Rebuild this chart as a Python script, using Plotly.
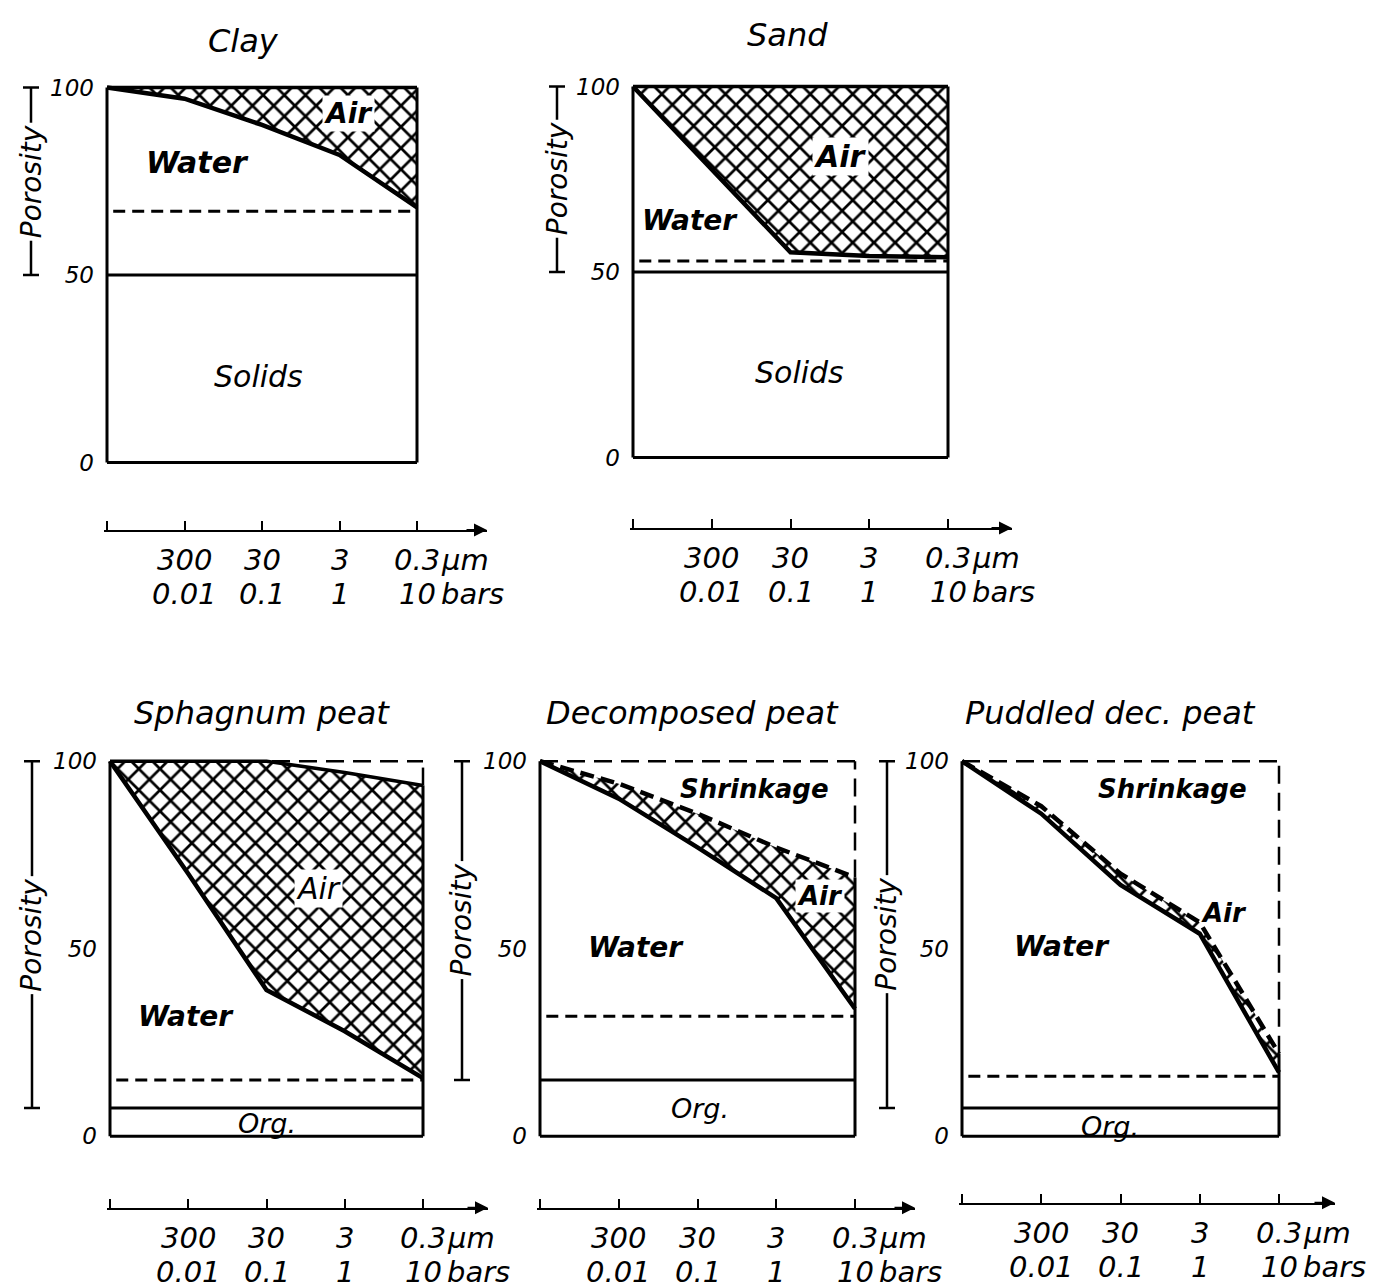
import plotly.graph_objects as go

W, H = 1390, 1288
OFF = 8  # page body margin of the html page, in px

# ---------------- data ----------------
steps = [0, 1, 2, 3, 4]                      # saturation, 0.01, 0.1, 1, 10 bars
pore_um = ["300", "30", "3", "0.3"]
suction_bar = ["0.01", "0.1", "1", "10"]
y_tick_vals = [0, 50, 100]
y_tick_text = ["0", "50", "100"]

titles = ["Clay", "Sand", "Sphagnum peat", "Decomposed peat", "Puddled dec. peat"]

clay_water = [100, 97, 90, 82, 68]
clay_air_top = [100, 100, 100, 100, 100]
clay_solids = 50
clay_dashed = 67

sand_water = [100, 77.6, 55.3, 54.3, 54]
sand_air_top = [100, 100, 100, 100, 100]
sand_solids = 50
sand_dashed = 53

sph_water = [100, 70, 39, 28, 15.5]
sph_air_top = [100, 100, 100, 97, 93.5]
sph_org = 7.5
sph_dashed = 15

dec_water = [100, 90, 77, 63.5, 34]
dec_air_top = [100, 94, 86, 77, 69]
dec_org = 15
dec_dashed = 32

pud_water = [100, 86, 67, 54, 17]
pud_air_top = [100, 88, 70, 57, 22]
pud_org = 7.5
pud_dashed = 16

# ---------------- layout of the panels (page pixels) ----------------
panels = [
    dict(title=titles[0], water=clay_water, air_top=clay_air_top, base=clay_solids,
         dashed=clay_dashed, shrinks=False, top_dash=None,
         box=(107, 417, 78, 456), arrow_y=524, tip=487, bracket_px=31, title_px=(243, 31),
         labels=[("Water", 1.17, 80, 30, True, None), ("Air", 3.12, 93, 28, True, "white"),
                 ("Solids", 1.95, 23, 30, False, None)]),
    dict(title=titles[1], water=sand_water, air_top=sand_air_top, base=sand_solids,
         dashed=sand_dashed, shrinks=False, top_dash=None,
         box=(633, 948, 77, 451), arrow_y=522, tip=1012, bracket_px=557, title_px=(787, 25),
         labels=[("Water", 0.72, 64, 28, True, None), ("Air", 2.63, 81, 30, True, "white"),
                 ("Solids", 2.12, 23, 30, False, None)]),
    dict(title=titles[2], water=sph_water, air_top=sph_air_top, base=sph_org,
         dashed=sph_dashed, shrinks=True, top_dash=None,
         box=(110, 423, 757, 1135), arrow_y=1207, tip=488, bracket_px=32, title_px=(262, 708),
         labels=[("Air", 2.66, 66, 30, False, "white"), ("Water", 0.97, 32, 28, True, None),
                 ("Org.", 2.0, 3.4, 27, False, None)]),
    dict(title=titles[3], water=dec_water, air_top=dec_air_top, base=dec_org,
         dashed=dec_dashed, shrinks=True, top_dash="14px,7px",
         box=(540, 855, 757, 1135), arrow_y=1207, tip=915, bracket_px=462, title_px=(692, 708),
         labels=[("Shrinkage", 2.73, 92.6, 26, True, None), ("Air", 3.55, 64, 26, True, "white"),
                 ("Water", 1.22, 50.3, 28, True, None), ("Org.", 2.03, 7.4, 27, False, None)]),
    dict(title=titles[4], water=pud_water, air_top=pud_air_top, base=pud_org,
         dashed=pud_dashed, shrinks=True, top_dash="14px,7px",
         box=(962, 1279, 757, 1135), arrow_y=1202, tip=1335, bracket_px=887, title_px=(1110, 708),
         labels=[("Shrinkage", 2.65, 92.6, 26, True, None), ("Air", 3.3, 59.5, 26, True, None),
                 ("Water", 1.26, 50.5, 28, True, None), ("Org.", 1.87, 2.6, 27, False, None)]),
]

FONT = "DejaVu Sans"
fig = go.Figure()
shapes = []
annotations = []
layout_axes = {}


def fnt(size, bold=False):
    return dict(family=FONT, size=size, color="black", style="italic",
                weight="bold" if bold else "normal")


for i, p in enumerate(panels, start=1):
    xs = "" if i == 1 else str(i)
    xref, yref = "x" + xs, "y" + xs
    left, right, top, bottom = [v - OFF for v in p["box"]]
    arrow_y, tip = p["arrow_y"] - OFF, p["tip"] - OFF
    ppx = (right - left) / (steps[-1] - steps[0])
    ppy = (bottom - top) / (y_tick_vals[-1] - y_tick_vals[0])
    pad = 3
    x_range = [steps[0] - pad / ppx, steps[0] + (tip - left) / ppx]
    y_range = [y_tick_vals[0] - (arrow_y - bottom) / ppy, y_tick_vals[-1] + pad / ppy]
    dom_l, dom_r = left - pad, tip
    x_dom = [dom_l / W, dom_r / W]
    y_dom = [1 - arrow_y / H, 1 - (top - pad) / H]

    layout_axes["xaxis" + xs] = dict(
        domain=x_dom, range=x_range, anchor=yref, showgrid=False, zeroline=False,
        showline=True, linecolor="black", linewidth=2, ticks="inside", tickvals=steps,
        ticklen=9, tickwidth=2, tickcolor="black", showticklabels=False, fixedrange=True)
    layout_axes["yaxis" + xs] = dict(
        domain=y_dom, range=y_range, anchor=xref, showgrid=False, zeroline=False,
        showline=False, ticks="", tickvals=y_tick_vals, ticktext=y_tick_text,
        ticklabelstandoff=9, tickfont=fnt(23), fixedrange=True)

    water, air_top = p["water"], p["air_top"]
    x0, x1 = steps[0], steps[-1]
    ylo, yhi = y_tick_vals[0], y_tick_vals[-1]

    # hatched air region
    fig.add_trace(go.Scatter(
        x=steps + steps[::-1], y=water + air_top[::-1], xaxis=xref, yaxis=yref,
        mode="lines", fill="toself", fillcolor="white", line=dict(width=0),
        fillpattern=dict(shape="x", size=15, solidity=0.33, fgcolor="black",
                         bgcolor="white", fillmode="replace"),
        hoverinfo="skip", showlegend=False))
    # water boundary
    fig.add_trace(go.Scatter(
        x=steps, y=water, xaxis=xref, yaxis=yref, mode="lines",
        line=dict(color="black", width=4.5), hoverinfo="skip", showlegend=False))
    # air / shrinkage boundary
    fig.add_trace(go.Scatter(
        x=steps, y=air_top, xaxis=xref, yaxis=yref, mode="lines",
        line=dict(color="black", width=4.5 if p["top_dash"] else 3.5,
                  dash=p["top_dash"] or "solid"),
        hoverinfo="skip", showlegend=False))

    # box
    shapes.append(dict(type="line", xref=xref, yref=yref, x0=x0, x1=x0, y0=ylo, y1=yhi,
                       line=dict(color="black", width=3)))
    shapes.append(dict(type="line", xref=xref, yref=yref, x0=x0, x1=x1, y0=ylo, y1=ylo,
                       line=dict(color="black", width=3)))
    shapes.append(dict(type="line", xref=xref, yref=yref, x0=x1, x1=x1, y0=ylo, y1=air_top[-1],
                       line=dict(color="black", width=3)))
    if p["shrinks"]:
        shapes.append(dict(type="line", xref=xref, yref=yref, x0=x1, x1=x1, y0=air_top[-1],
                           y1=yhi, line=dict(color="black", width=2.5, dash="18px,9px")))
        shapes.append(dict(type="line", xref=xref, yref=yref, x0=x0, x1=x1, y0=yhi, y1=yhi,
                           line=dict(color="black", width=2.5, dash="18px,9px")))
    # solids / organic matter line
    shapes.append(dict(type="line", xref=xref, yref=yref, x0=x0, x1=x1, y0=p["base"],
                       y1=p["base"], line=dict(color="black", width=3)))
    # dashed level line
    shapes.append(dict(type="line", xref=xref, yref=yref, x0=x0 + 0.08, x1=x1, y0=p["dashed"],
                       y1=p["dashed"], line=dict(color="black", width=3, dash="12px,7px")))

    # arrow head on bottom axis
    annotations.append(dict(x=x_range[1], y=0, xref=xref, yref=yref + " domain", text="",
                            showarrow=True, ax=-22, ay=0, arrowhead=2, arrowsize=1.3,
                            arrowwidth=2, arrowcolor="black"))
    # bottom axis labels
    for k, (um, bar) in enumerate(zip(pore_um, suction_bar)):
        for txt, ys in ((um, -30), (bar, -64)):
            annotations.append(dict(x=steps[k + 1], y=0, xref=xref, yref=yref + " domain",
                                    yshift=ys, text=txt, showarrow=False, xanchor="center",
                                    yanchor="middle", font=fnt(29)))
    for txt, ys, xsft in (("μm", -30, 22), ("bars", -64, 22)):
        annotations.append(dict(x=steps[-1], y=0, xref=xref, yref=yref + " domain",
                                yshift=ys, xshift=xsft, text=txt, showarrow=False,
                                xanchor="left", yanchor="middle", font=fnt(29)))

    # porosity bracket
    dom_w = dom_r - dom_l
    bx = (p["bracket_px"] - OFF - dom_l) / dom_w
    cap = 8 / dom_w
    shapes.append(dict(type="line", xref=xref + " domain", yref=yref, x0=bx, x1=bx,
                       y0=p["base"], y1=yhi, line=dict(color="black", width=2.5)))
    for yy in (p["base"], yhi):
        shapes.append(dict(type="line", xref=xref + " domain", yref=yref, x0=bx - cap,
                           x1=bx + cap, y0=yy, y1=yy, line=dict(color="black", width=2.5)))
    annotations.append(dict(x=bx, y=(p["base"] + yhi) / 2, xref=xref + " domain", yref=yref,
                            text="Porosity", textangle=-90, showarrow=False, bgcolor="white",
                            xanchor="center", yanchor="middle", borderpad=2, font=fnt(28)))

    # title
    annotations.append(dict(x=(p["title_px"][0] - OFF) / W, y=1 - (p["title_px"][1] - OFF) / H,
                            xref="paper", yref="paper", text=p["title"], showarrow=False,
                            xanchor="center", yanchor="middle", font=fnt(32)))
    # region labels
    for txt, lx, ly, fs, bold, bg in p["labels"]:
        a = dict(x=lx, y=ly, xref=xref, yref=yref, text=txt, showarrow=False,
                 xanchor="center", yanchor="middle", font=fnt(fs, bold))
        if bg:
            a["bgcolor"] = bg
            a["borderpad"] = 1
        annotations.append(a)

fig.update_layout(
    width=W, height=H, margin=dict(l=0, r=0, t=0, b=0),
    paper_bgcolor="white", plot_bgcolor="rgba(0,0,0,0)", showlegend=False,
    shapes=shapes, annotations=annotations, **layout_axes)

fig.write_html("out.html")
